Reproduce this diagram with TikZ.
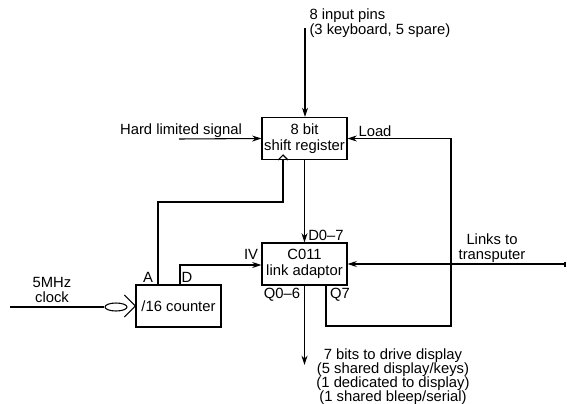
\documentclass[tikz,border=0pt]{standalone}
\usepackage{fontspec}
\setmainfont{Liberation Sans}
\usetikzlibrary{arrows.meta,shapes.geometric}
\begin{document}
\begin{tikzpicture}[x=0.75pt,y=-0.75pt, line width=0.8pt,
  box/.style={draw, rectangle, minimum width=63.75pt, minimum height=31.5pt, inner sep=0pt, align=center, font=\fontsize{11.1}{11.6}\selectfont},
  lbl/.style={inner sep=0pt, font=\fontsize{11.1}{11}\selectfont, align=center},
  arr/.style={-{Stealth[length=7pt,width=4.5pt]}}
]
\useasboundingbox (0,0) rectangle (567,403);
% boxes
\node[box] (sr) at (304.5,138.5) {8 bit\\shift register};
\node[box] (c011) at (304.5,264) {C011\\link adaptor};
\node[box] (cnt) at (178.5,306) {/16 counter};
\node[draw, ellipse, minimum width=16.5pt, minimum height=6pt, inner sep=0pt] (ell) at (116,307) {};
% clock triangle on shift register
\coordinate (srclk) at (283,160);
\draw (278,160) -- (283,155) -- (288,160);
% texts
\node[lbl, align=left, anchor=west, font=\fontsize{11.1}{11.25}\selectfont] (top) at (309,23.5) {8 input pins\\(3 keyboard, 5 spare)};
\node[lbl, font=\fontsize{11.1}{10.5}\selectfont] (bot) at (393,377) {7 bits to drive display\\(5 shared display/keys)\\(1 dedicated to display)\\(1 shared bleep/serial)};
\node[lbl] (hls) at (181,131) {Hard limited signal};
\node[lbl] (load) at (375,131) {Load};
\node[lbl] (mhz) at (52,290) {5MHz\\clock};
\node[lbl] (la) at (148,277) {A};
\node[lbl] (ld) at (187,277) {D};
\node[lbl] (liv) at (251,254) {IV};
\node[lbl] (ld07) at (326,235) {D0--7};
\node[lbl] (lq06) at (282,295) {Q0--6};
\node[lbl] (lq7) at (340,295) {Q7};
\node[lbl] (links) at (492,248) {Links to\\transputer};
% connectors
\coordinate (pins) at (305,28);
\draw[arr] (pins) -- (pins |- sr.north);
\coordinate (hlsin) at (179,139);
\draw[arr] (hlsin) -- (sr.west);
\draw[arr] (sr.south) -- (c011.north);
\coordinate (outbot) at (304.5,365);
\draw[arr] (c011.south) -- (outbot);
% counter A to shift register clock
\coordinate (apin) at (158,285);
\draw (apin) -- (158,202) -- (283,202) -- (srclk);
% counter D to C011 IV
\coordinate (dpin) at (180,285);
\draw[arr] (dpin) -- (180,265) -- (c011.west |- 0,265);
% Q7 loop to Load
\coordinate (q7) at (326,285);
\draw[arr] (q7) -- (326,326) -- (451,326) -- (451,138.5) -- (sr.east);
% links
\coordinate (lnk) at (565,264);
\draw[arr] (lnk) -- (c011.east);
\draw (lnk) ++(0,-2.5) -- ++(0,5);
% clock input
\coordinate (clkin) at (10,307);
\draw (clkin) -- (ell.west);
\draw (cnt.west) ++(-11,-11) -- (cnt.west) -- ++(-11,11);
\end{tikzpicture}
\end{document}
